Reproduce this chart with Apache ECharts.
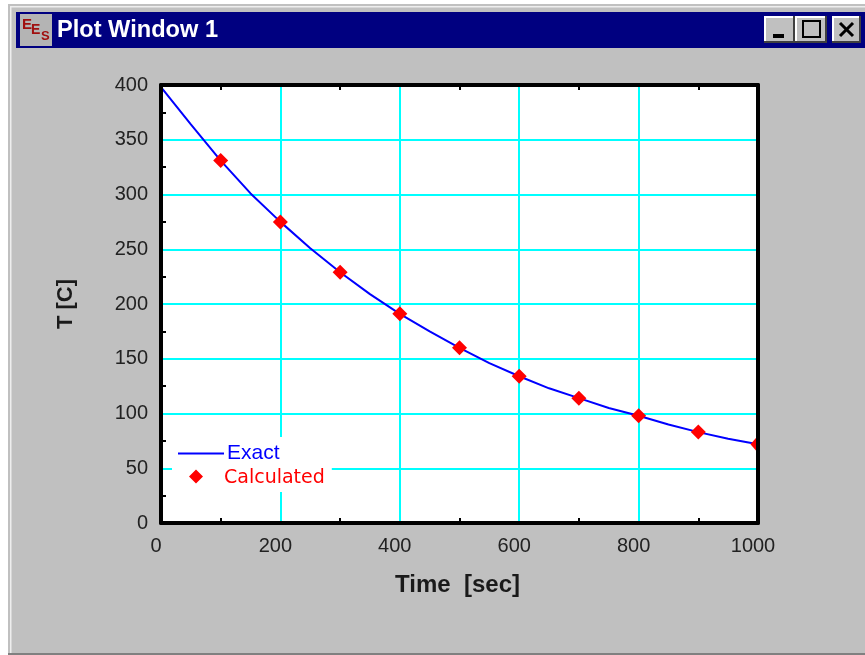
<!DOCTYPE html>
<html>
<head>
<meta charset="utf-8">
<title>Plot Window 1</title>
<script src="https://cdn.jsdelivr.net/npm/echarts@6/dist/echarts.min.js"></script>
<style>
  html, body { margin: 0; padding: 0; background: #fff; }
  #chart { width: 865px; height: 655px; }
</style>
</head>
<body>
<div id="chart"></div>
<script>
const exactTimes = [0, 50, 100, 150, 200, 250, 300, 350, 400, 450, 500, 550, 600, 650, 700, 750, 800, 850, 900, 950, 1000];
const exactTemps = [398, 364, 331, 301, 275, 251, 229, 209, 191, 175, 160, 146, 134, 123, 114, 105, 98, 90, 83, 77, 72];
const calcTimes = [100, 200, 300, 400, 500, 600, 700, 800, 900, 1000];
const calcTemps = [331, 275, 229, 191, 160, 134, 114, 98, 83, 72];
const windowTitle = 'Plot Window 1';
const xAxisName = 'Time  [sec]';
const yAxisName = 'T [C]';

const chart = echarts.init(document.getElementById('chart'));
const sans = '"Liberation Sans", Arial, sans-serif';

// 3d looking button of the title bar
function button(x, y, w, h) {
  return [
    { type: 'rect', shape: { x: x, y: y, width: w, height: h }, style: { fill: '#404040' } },
    { type: 'rect', shape: { x: x, y: y, width: w - 2, height: h - 2 }, style: { fill: '#ffffff' } },
    { type: 'rect', shape: { x: x + 2, y: y + 2, width: w - 4, height: h - 4 }, style: { fill: '#c0c0c0' } }
  ];
}

const chrome = [
  // window frame
  { type: 'rect', shape: { x: 8, y: 4, width: 857, height: 651 }, style: { fill: '#c0c0c0' } },
  { type: 'rect', shape: { x: 10, y: 6, width: 855, height: 1.5 }, style: { fill: '#eeeeee' } },
  { type: 'rect', shape: { x: 10, y: 6, width: 1.5, height: 647 }, style: { fill: '#eeeeee' } },
  { type: 'rect', shape: { x: 8, y: 653, width: 857, height: 2 }, style: { fill: '#808080' } },
  // title bar
  { type: 'rect', shape: { x: 16, y: 12, width: 849, height: 36 }, style: { fill: '#000080' } },
  { type: 'rect', shape: { x: 20, y: 14, width: 32, height: 32 }, style: { fill: '#b4b4b4' } },
  { type: 'text', x: 22, y: 17, style: { text: 'E', fill: '#a01010', font: 'bold 15px ' + sans } },
  { type: 'text', x: 31, y: 23, style: { text: 'E', fill: '#a01010', font: 'bold 14px ' + sans } },
  { type: 'text', x: 41, y: 30, style: { text: 'S', fill: '#a01010', font: 'bold 13px ' + sans } },
  { type: 'text', x: 57, y: 18, style: { text: windowTitle, fill: '#ffffff', font: 'bold 23.6px ' + sans } }
].concat(
  button(764, 16, 31, 27),
  button(795, 16, 32, 27),
  button(832, 16, 29, 27),
  [
    { type: 'rect', shape: { x: 773, y: 34, width: 11, height: 4 }, style: { fill: '#000' } },
    { type: 'rect', shape: { x: 803, y: 21, width: 17, height: 16 }, style: { fill: 'none', stroke: '#000', lineWidth: 2 } },
    { type: 'line', shape: { x1: 840, y1: 23, x2: 853, y2: 36 }, style: { stroke: '#000', lineWidth: 3 } },
    { type: 'line', shape: { x1: 853, y1: 23, x2: 840, y2: 36 }, style: { stroke: '#000', lineWidth: 3 } }
  ]
);

const frameLine = { show: true, onZero: false, lineStyle: { color: '#000', width: 4 } };
const innerTicks = { show: true, length: 5, splitNumber: 2, lineStyle: { color: '#000', width: 2 } };
const xScale = { type: 'value', min: 0, max: 1000, interval: 200, splitNumber: 5 };
const yScale = { type: 'value', min: 0, max: 400, interval: 50, splitNumber: 8 };
// minor ticks point into the plot
const hiddenMajor = { show: false, inside: true };

// diamonds are cut off at the plot frame, scatter would not do that
function renderDiamond(params, api) {
  const c = api.coord([api.value(0), api.value(1)]);
  const r = 7.5;
  const box = params.coordSys;
  const points = echarts.graphic.clipPointsByRect(
    [[c[0] - r, c[1]], [c[0], c[1] - r], [c[0] + r, c[1]], [c[0], c[1] + r]],
    { x: box.x, y: box.y, width: box.width - 1, height: box.height }
  );
  return { type: 'polygon', shape: { points: points }, style: { fill: '#ff0000' } };
}

chart.setOption({
  animation: false,
  backgroundColor: '#ffffff',
  graphic: { elements: chrome.map(el => ({ ...el, silent: true, z: -10, zlevel: 0 })) },
  grid: { left: 161, top: 85, width: 597, height: 438, show: true, backgroundColor: '#ffffff', borderWidth: 0 },
  legend: {
    left: 172,
    top: 437,
    orient: 'vertical',
    backgroundColor: '#ffffff',
    padding: [6, 7, 4, 6],
    itemGap: 5,
    itemWidth: 46,
    itemHeight: 18,
    textStyle: { fontFamily: sans, fontSize: 21, padding: [0, 0, 0, -2] },
    data: [
      { name: 'Exact', icon: 'path://M0 8H46V10H0Z M0 0L0 0Z M46 18L46 18Z', textStyle: { color: '#0000ff' } },
      { name: 'Calculated', icon: 'path://M18 0L25 7L18 14L11 7Z M0 0L0 0Z M46 18L46 18Z', itemStyle: { color: '#ff0000' }, textStyle: { color: '#ff0000', fontFamily: '"DejaVu Sans"', fontSize: 19, padding: [0, 0, 0, -5] } }
    ]
  },
  xAxis: [
    {
      ...xScale,
      position: 'bottom',
      name: xAxisName,
      nameLocation: 'middle',
      nameGap: 50,
      nameTextStyle: { fontFamily: sans, fontSize: 24, fontWeight: 'bold', color: '#1a1a1a', padding: [0, 4, 0, 0] },
      axisLine: { show: false },
      axisTick: { show: false },
      axisLabel: { fontFamily: sans, fontSize: 20, color: '#222', margin: 13, padding: [0, 10, 0, 0], formatter: v => String(v) },
      splitLine: { show: true, lineStyle: { color: '#00ffff', width: 2 } }
    },
    { ...xScale, position: 'bottom', z: 5, axisLine: frameLine, axisTick: hiddenMajor, minorTick: innerTicks, axisLabel: { show: false }, splitLine: { show: false } },
    { ...xScale, position: 'top', z: 5, axisLine: frameLine, axisTick: hiddenMajor, minorTick: innerTicks, axisLabel: { show: false }, splitLine: { show: false } }
  ],
  yAxis: [
    {
      ...yScale,
      position: 'left',
      name: yAxisName,
      nameLocation: 'middle',
      nameGap: 84,
      nameTextStyle: { fontFamily: sans, fontSize: 22, fontWeight: 'bold', color: '#1a1a1a' },
      axisLine: { show: false },
      axisTick: { show: false },
      axisLabel: { fontFamily: sans, fontSize: 20, color: '#222', margin: 13 },
      splitLine: { show: true, lineStyle: { color: '#00ffff', width: 2 } }
    },
    { ...yScale, position: 'left', z: 5, axisLine: frameLine, axisTick: hiddenMajor, minorTick: innerTicks, axisLabel: { show: false }, splitLine: { show: false } },
    { ...yScale, position: 'right', z: 5, axisLine: frameLine, axisTick: { show: false }, axisLabel: { show: false }, splitLine: { show: false } }
  ],
  series: [
    {
      name: 'Exact',
      type: 'line',
      z: 2,
      showSymbol: false,
      symbol: 'none',
      clip: true,
      lineStyle: { color: '#0000ff', width: 2 },
      itemStyle: { color: '#0000ff' },
      data: exactTimes.map((t, i) => [t, exactTemps[i]])
    },
    {
      name: 'Calculated',
      type: 'custom',
      z: 3,
      renderItem: renderDiamond,
      itemStyle: { color: '#ff0000' },
      encode: { x: 0, y: 1 },
      data: calcTimes.map((t, i) => [t, calcTemps[i]])
    }
  ]
});
</script>
</body>
</html>
